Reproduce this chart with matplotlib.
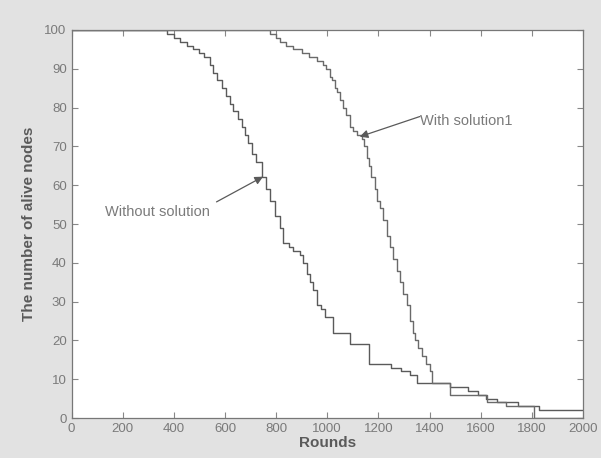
import matplotlib
matplotlib.use("Agg")
import matplotlib.pyplot as plt

plt.rcParams['font.family'] = ['Liberation Sans', 'DejaVu Sans']

# network lifetime: alive nodes per round (step curves)
without_rounds = [0, 375, 400, 425, 450, 475, 500, 520, 540, 555,
                  570, 590, 606, 620, 632, 650, 665, 680, 691, 705,
                  723, 743, 760, 776, 795, 815, 828, 850, 867, 893,
                  905, 919, 932, 945, 958, 975, 991, 1023, 1090, 1165,
                  1250, 1290, 1325, 1350, 1480, 1550, 1590, 1620, 1665, 1745,
                  1830, 2000]
without_alive = [100, 99, 98, 97, 96, 95, 94, 93, 91, 89,
                 87, 85, 83, 81, 79, 77, 75, 73, 71, 68,
                 66, 62, 59, 56, 52, 49, 45, 44, 43, 42,
                 40, 37, 35, 33, 29, 28, 26, 22, 19, 14,
                 13, 12, 11, 9, 8, 7, 6, 5, 4, 3,
                 2, 2]

with_rounds = [0, 776, 800, 815, 840, 867, 900, 930, 958, 984,
               997, 1010, 1020, 1030, 1040, 1049, 1062, 1075, 1088, 1100,
               1115, 1134, 1145, 1154, 1165, 1173, 1185, 1193, 1206, 1219,
               1232, 1245, 1258, 1271, 1285, 1297, 1310, 1323, 1335, 1343,
               1356, 1369, 1388, 1401, 1410, 1480, 1625, 1700, 1810, 2000]
with_alive = [100, 99, 98, 97, 96, 95, 94, 93, 92, 91,
              90, 88, 87, 85, 84, 82, 80, 78, 75, 74,
              73, 72, 70, 67, 65, 62, 59, 56, 54, 51,
              47, 44, 41, 38, 35, 32, 29, 25, 22, 20,
              18, 16, 14, 12, 9, 6, 4, 3, 0, 0]

x_ticks = [0, 200, 400, 600, 800, 1000, 1200, 1400, 1600, 1800, 2000]
y_ticks = [0, 10, 20, 30, 40, 50, 60, 70, 80, 90, 100]

bg = '#e2e2e2'
ink = '#5a5a5a'
txt = '#7a7a7a'

fig = plt.figure(figsize=(6.01, 4.58), dpi=100, facecolor=bg)
ax = fig.add_axes([0.119, 0.0873, 0.851, 0.8472])
ax.set_facecolor('white')

ax.plot(without_rounds, without_alive, drawstyle='steps-post', color=ink, lw=1.0)
ax.plot(with_rounds, with_alive, drawstyle='steps-post', color='#6a6a6a', lw=1.0)

ax.set_xlim(0, 2000)
ax.set_ylim(0, 100)
ax.set_xticks(x_ticks)
ax.set_yticks(y_ticks)
ax.tick_params(direction='in', top=True, right=True, length=4, width=0.8,
               colors='#888888', labelcolor=txt, labelsize=9.5)
for s in ax.spines.values():
    s.set_color('#777777')
    s.set_linewidth(0.9)

ax.set_xlabel('Rounds', fontsize=11, fontweight='bold', color=ink, labelpad=1)
ax.set_ylabel('The number of alive nodes', fontsize=11, fontweight='bold', color=ink, labelpad=6)

arrow = dict(arrowstyle='-|>', color=ink, lw=0.9, mutation_scale=12, shrinkA=0, shrinkB=0)

ax.text(130, 53, 'Without solution', fontsize=10.5, color=txt, ha='left', va='center')
ax.annotate('', xy=(749, 62.2), xytext=(567, 55.7), arrowprops=arrow)

ax.text(1362, 76.6, 'With solution1', fontsize=10.5, color=txt, ha='left', va='center')
ax.annotate('', xy=(1127, 72.5), xytext=(1362, 77.7), arrowprops=arrow)

fig.savefig('out.png', dpi=100, facecolor=bg)
